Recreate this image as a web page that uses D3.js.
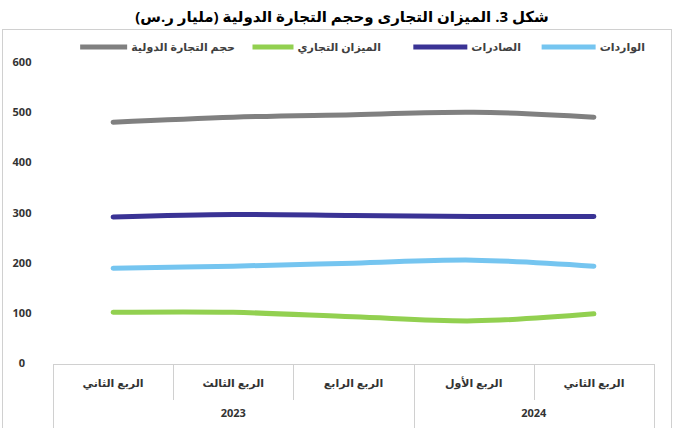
<!DOCTYPE html>
<html>
<head>
<meta charset="utf-8">
<script src="https://cdn.jsdelivr.net/npm/d3@7"></script>
<style>
  body { margin: 0; background: #fff; }
  text { font-family: "Open Sans", "DejaVu Sans", sans-serif; }
</style>
</head>
<body>
<div id="chart"></div>
<script>
// البيانات (مقروءة من الرسم)
const quarters = ["الربع الثاني", "الربع الثالث", "الربع الرابع", "الربع الأول", "الربع الثاني"];
const years = ["2023", "2023", "2023", "2024", "2024"];
const tradeVolume = [480, 490, 495, 500, 490];
const exportsVals = [291, 296, 294, 292, 292];
const importsVals = [189, 193, 199, 205, 193];
const balanceVals = [101, 101, 92, 84, 98];
const yTicks = [0, 100, 200, 300, 400, 500, 600];

const series = [
    { name: "الواردات", values: importsVals, color: "#75c5f0" },
    { name: "الصادرات", values: exportsVals, color: "#3a3395" },
    { name: "الميزان التجاري", values: balanceVals, color: "#92d050" },
    { name: "حجم التجارة الدولية", values: tradeVolume, color: "#808080" }
];

const width = 674, height = 428;
const plot = { left: 53, right: 654, top: 62, bottom: 363 };

const svg = d3.select("#chart")
    .append("svg")
    .attr("width", width)
    .attr("height", height);

// الإطار الخارجي
svg.append("rect")
    .attr("x", 2.5).attr("y", 29.5)
    .attr("width", 669).attr("height", 420)
    .attr("fill", "none")
    .attr("stroke", "#d0d0d0");

// العنوان
svg.append("text")
    .attr("x", 342).attr("y", 22)
    .attr("text-anchor", "middle")
    .attr("direction", "rtl")
    .style("font-size", "15px")
    .style("font-weight", "bold")
    .attr("fill", "#000")
    .text("شكل 3. الميزان التجارى وحجم التجارة الدولية (مليار ر.س)");

const idx = d3.range(quarters.length);
const x = d3.scaleBand().domain(idx).range([plot.left, plot.right]);
const y = d3.scaleLinear().domain([0, 600]).range([plot.bottom, plot.top]);

// محور Y
svg.append("g")
    .attr("transform", "translate(36,0)")
    .call(d3.axisLeft(y).tickValues(yTicks).tickSize(0).tickPadding(0))
    .call(g => g.select(".domain").remove())
    .selectAll("text")
    .attr("text-anchor", "middle")
    .attr("x", -14)
    .style("font-size", "11px")
    .style("font-weight", "bold")
    .attr("fill", "#333");

// صندوق محور الفئات
const boxTop = plot.bottom + 1;
const rowMid = boxTop + 36;
const axisG = svg.append("g").attr("stroke", "#d0d0d0").attr("fill", "none");
axisG.append("line")
    .attr("x1", plot.left).attr("x2", plot.right)
    .attr("y1", boxTop + 0.5).attr("y2", boxTop + 0.5);
axisG.append("line")
    .attr("x1", plot.left + 0.5).attr("x2", plot.left + 0.5)
    .attr("y1", boxTop).attr("y2", height);
axisG.append("line")
    .attr("x1", plot.right + 0.5).attr("x2", plot.right + 0.5)
    .attr("y1", boxTop).attr("y2", height);

// فواصل الأرباع والسنوات
idx.slice(1).forEach(i => {
    const xx = Math.round(x(i)) + 0.5;
    const yearBreak = years[i] !== years[i - 1];
    axisG.append("line")
        .attr("x1", xx).attr("x2", xx)
        .attr("y1", boxTop)
        .attr("y2", yearBreak ? height : rowMid);
});

svg.append("g").selectAll("text")
    .data(idx)
    .join("text")
    .attr("x", d => x(d) + x.bandwidth() / 2)
    .attr("y", boxTop + 23)
    .attr("text-anchor", "middle")
    .style("font-size", "11px")
    .style("font-weight", "bold")
    .attr("fill", "#333")
    .text(d => quarters[d]);

const yearGroups = d3.groups(idx, d => years[d]);
svg.append("g").selectAll("text")
    .data(yearGroups)
    .join("text")
    .attr("x", d => (x(d[1][0]) + x(d[1][d[1].length - 1]) + x.bandwidth()) / 2)
    .attr("y", boxTop + 53)
    .attr("text-anchor", "middle")
    .style("font-size", "11px")
    .style("font-weight", "bold")
    .attr("fill", "#333")
    .text(d => d[0]);

// الخطوط
const line = d3.line()
    .x((d, i) => x(i) + x.bandwidth() / 2)
    .y(d => y(d))
    .curve(d3.curveCatmullRom.alpha(0.5));

svg.append("g").selectAll("path")
    .data(series.slice().reverse())
    .join("path")
    .attr("d", d => line(d.values))
    .attr("fill", "none")
    .attr("stroke", d => d.color)
    .attr("stroke-width", 5)
    .attr("stroke-linecap", "round")
    .attr("stroke-linejoin", "round");

// وسيلة الإيضاح
const legendX = [645, 521, 381, 235];
const legendW = [54, 54, 41, 47];
const legend = svg.append("g").selectAll("g")
    .data(series)
    .join("g");
legend.append("text")
    .attr("x", (d, i) => legendX[i])
    .attr("y", 51)
    .attr("text-anchor", "end")
    .style("font-size", "11px")
    .style("font-weight", "bold")
    .attr("fill", "#404040")
    .text(d => d.name);

function textWidthOf(i) {
    const nodes = legend.selectAll("text").nodes();
    return nodes[i] ? nodes[i].getComputedTextLength() : 50;
}

legend.append("line")
    .attr("x1", (d, i) => legendX[i] - textWidthOf(i) - 4 - legendW[i])
    .attr("x2", (d, i) => legendX[i] - textWidthOf(i) - 4)
    .attr("y1", 47).attr("y2", 47)
    .attr("stroke", d => d.color)
    .attr("stroke-width", 5);
</script>
</body>
</html>
